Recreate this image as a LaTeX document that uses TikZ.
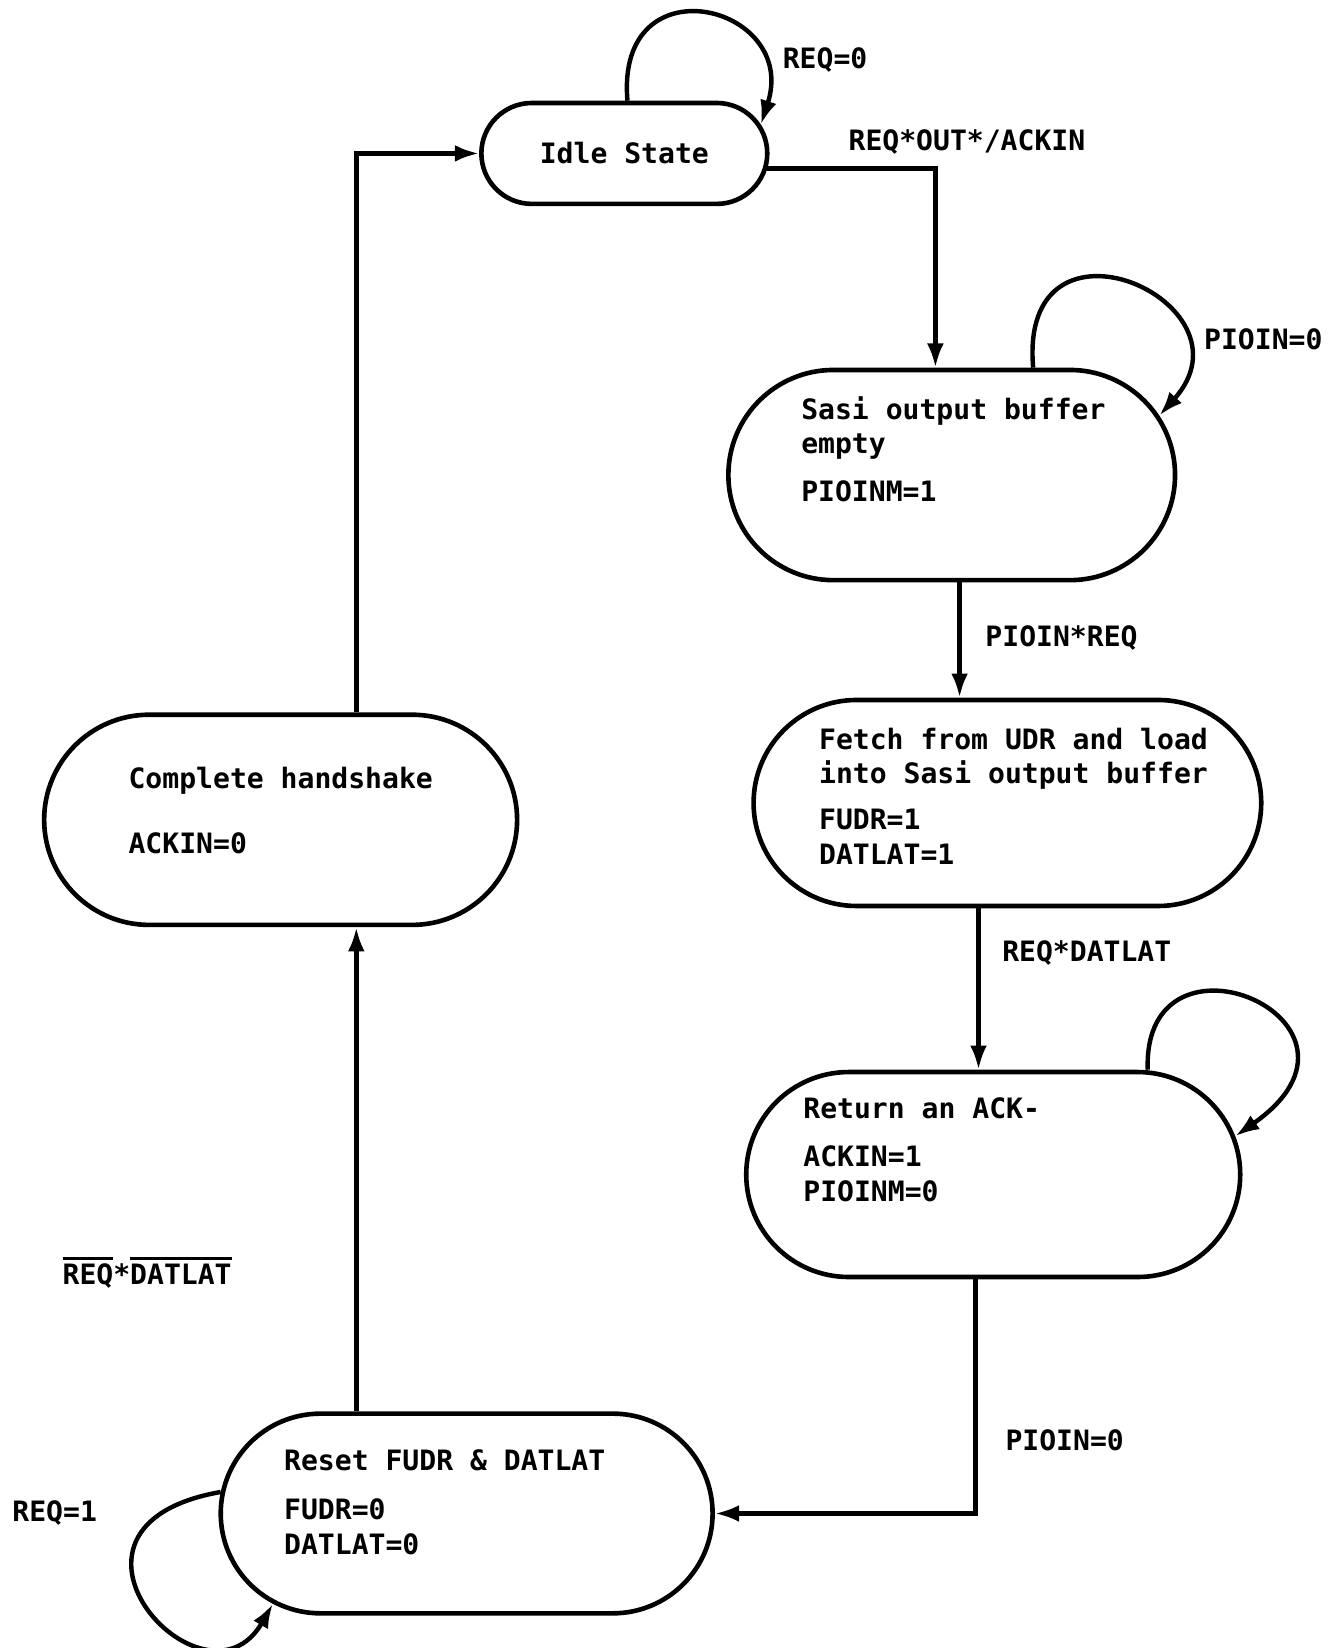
\documentclass[tikz,border=0pt]{standalone}
\usepackage{fontspec}
\newfontfamily\typer{DejaVu Sans Mono}
\usetikzlibrary{shapes.misc,arrows.meta,calc}
\newcommand{\barred}[1]{\vbox{\hrule height 1.8pt\kern 2.2pt\hbox{#1}}}

\begin{document}
\begin{tikzpicture}[
        state/.style={rounded rectangle, draw, line width=2.5pt, inner sep=0pt},
        txt/.style={font=\typer\bfseries\fontsize{15.2}{18.7}\selectfont, inner sep=0pt},
        body/.style={txt, align=left, anchor=north west},
        arrow/.style={line width=2.4pt, -{Latex[length=4.6mm,width=3.2mm]}}
    ]
    \useasboundingbox (0,0) rectangle (25.32,-31.36);

    \node[state, txt, minimum width=5.44cm, minimum height=1.92cm] (idle) at (11.88,-2.92) {Idle State};
    \node[state, minimum width=8.5cm, minimum height=4cm] (sasi) at (18.11,-9.04) {};
    \node[state, minimum width=9.66cm, minimum height=3.92cm] (fetch) at (19.17,-15.28) {};
    \node[state, minimum width=9.4cm, minimum height=3.9cm] (ret) at (18.9,-22.35) {};
    \node[state, minimum width=9.36cm, minimum height=3.8cm] (reset) at (8.88,-28.8) {};
    \node[state, minimum width=9.0cm, minimum height=4cm] (hand) at (5.34,-15.6) {};

    % state contents
    \node[body] (sasitxt) at (15.24,-7.54) {Sasi output buffer\\empty\\[0.24cm]PIOINM=1};
    \node[body] (fetchtxt) at (15.58,-13.84) {Fetch from UDR and load\\into Sasi output buffer\\[0.22cm]FUDR=1\\DATLAT=1};
    \node[body] (rettxt) at (15.28,-20.88) {Return an ACK-\\[0.26cm]ACKIN=1\\PIOINM=0};
    \node[body] (resettxt) at (5.40,-27.58) {Reset FUDR \& DATLAT\\[0.28cm]FUDR=0\\DATLAT=0};
    \node[body] (handtxt) at (2.44,-14.60) {Complete handshake\\[0.58cm]ACKIN=0};

    % transitions
    \draw[arrow] (idle.-6) -| ([xshift=-3.1mm]sasi.north);
    \draw[arrow] ([xshift=1.5mm]sasi.south) -- ([xshift=1.5mm]sasi.south |- fetch.north);
    \draw[arrow] ([xshift=-5.5mm]fetch.south) -- ([xshift=-5.5mm]fetch.south |- ret.north);
    \draw[arrow] ([xshift=-3.4mm]ret.south) |- (reset.east);
    \draw[arrow] ([xshift=-21mm]reset.north) -- ([xshift=-21mm]reset.north |- hand.south);
    \draw[arrow] ([xshift=14.4mm]hand.north) |- (idle.west);

    % self loops
    \draw[arrow] ([xshift=0.6mm]idle.north) .. controls +(95:2.7) and +(72:2.4) .. (idle.12);
    \draw[arrow] ([xshift=15.5mm]sasi.north) .. controls +(95:3.3) and +(48:2.9) .. (sasi.16);
    \draw[arrow] ([xshift=29.4mm]ret.north) .. controls +(92:3.0) and +(35:3.8) .. (ret.9.5);
    \draw[arrow] (reset.175) .. controls +(190:3.8) and +(240:2.6) .. (reset.205);

    % conditions
    \node[txt] (c1) at (15.7,-1.14) {REQ=0};
    \node[txt] (c2) at (18.4,-2.7) {REQ*OUT*/ACKIN};
    \node[txt] (c3) at (24.04,-6.46) {PIOIN=0};
    \node[txt] (c4) at (20.2,-12.14) {PIOIN*REQ};
    \node[txt] (c5) at (20.68,-18.14) {REQ*DATLAT};
    \node[txt] (c6) at (20.26,-27.4) {PIOIN=0};
    \node[txt] (c7) at (1.04,-28.8) {REQ=1};
    \node[txt] (c8) at (2.8,-24.22) {\barred{REQ}*\barred{DATLAT}};
\end{tikzpicture}
\end{document}
